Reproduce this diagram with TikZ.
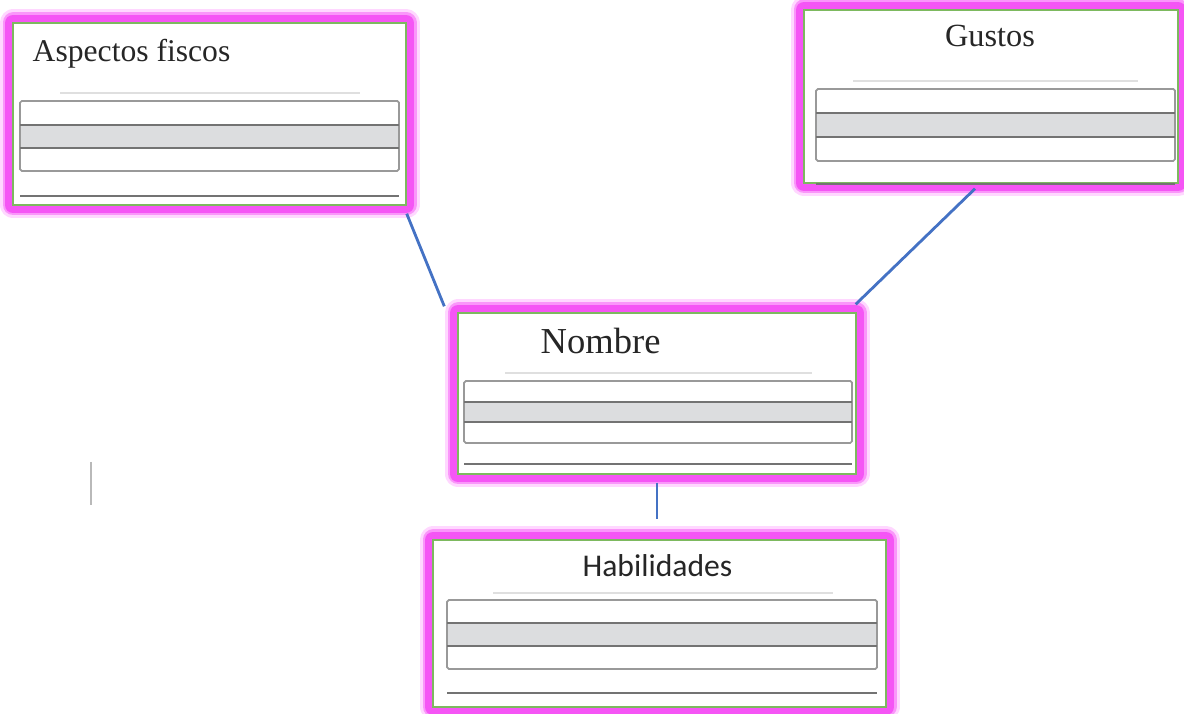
\documentclass[tikz,border=0pt]{standalone}
\usepackage{fontspec}
\setmainfont{Liberation Serif}
\newfontfamily\carlito{Carlito}
\usetikzlibrary{positioning,calc}
\definecolor{glowpink}{RGB}{245,85,245}
\definecolor{halopink}{RGB}{250,150,250}
\definecolor{fadepink}{RGB}{255,215,255}
\definecolor{boxgreen}{RGB}{125,185,95}
\definecolor{linkblue}{RGB}{68,114,196}
\definecolor{rowgray}{RGB}{220,221,223}

\begin{document}
\begin{tikzpicture}
        \tikzstyle{every node}=[inner sep=0pt,text=black!85]
        \tikzstyle{clase}=[rectangle,fill=white,draw=boxgreen,line width=0.4pt,
            preaction={draw=fadepink,line width=0.27cm,line join=round},
            preaction={draw=halopink,line width=0.21cm,line join=round},
            preaction={draw=glowpink,line width=0.16cm,line join=round}]
        \tikzstyle{link}=[draw=linkblue,line width=0.8pt]
        \tikzstyle{fila}=[draw=gray!80,line width=0.5pt,rounded corners=0.5pt]
        \tikzstyle{sep}=[draw=black!55,line width=0.7pt]
        \tikzstyle{tenue}=[draw=gray!25,line width=0.4pt]

        \useasboundingbox (0,0) rectangle (11.84,-7.14);

        %%% Boxes
        \node[clase,minimum width=3.93cm,minimum height=1.82cm] (asp) at (2.095,-1.14) {};
        \node[clase,minimum width=3.74cm,minimum height=1.73cm] (gus) at (9.91,-0.965) {};
        \node[clase,minimum width=3.98cm,minimum height=1.61cm] (nom) at (6.57,-3.935) {};
        \node[clase,minimum width=4.53cm,minimum height=1.67cm] (hab) at (6.595,-6.235) {};

        %%% Titles
        \node[anchor=base west,font=\fontsize{9}{11}\selectfont] (aspT) at (0.32,-0.62) {Aspectos fiscos};
        \node[anchor=base,font=\fontsize{9.2}{11}\selectfont] (gusT) at (9.90,-0.47) {Gustos};
        \node[anchor=base west,font=\fontsize{10.4}{12}\selectfont] (nomT) at (5.40,-3.54) {Nombre};
        \node[anchor=base,font=\carlito\fontsize{9}{11}\selectfont] (habT) at (6.575,-5.77) {Habilidades};

        %%% Aspectos fiscos
        \draw[tenue] (0.60,-0.93) -- (3.60,-0.93);
        \fill[rowgray] (0.20,-1.25) rectangle (3.99,-1.48);
        \draw[fila] (0.20,-1.01) rectangle (3.99,-1.71);
        \draw[sep] (0.20,-1.25) -- (3.99,-1.25) (0.20,-1.48) -- (3.99,-1.48);
        \draw[sep] (0.20,-1.96) -- (3.99,-1.96);

        %%% Gustos
        \draw[tenue] (8.53,-0.81) -- (11.38,-0.81);
        \fill[rowgray] (8.16,-1.13) rectangle (11.75,-1.37);
        \draw[fila] (8.16,-0.89) rectangle (11.75,-1.61);
        \draw[sep] (8.16,-1.13) -- (11.75,-1.13) (8.16,-1.37) -- (11.75,-1.37);
        \draw[sep] (8.16,-1.84) -- (11.75,-1.84);

        %%% Nombre
        \draw[tenue] (5.05,-3.73) -- (8.12,-3.73);
        \fill[rowgray] (4.64,-4.02) rectangle (8.52,-4.22);
        \draw[fila] (4.64,-3.81) rectangle (8.52,-4.43);
        \draw[sep] (4.64,-4.02) -- (8.52,-4.02) (4.64,-4.22) -- (8.52,-4.22);
        \draw[sep] (4.64,-4.64) -- (8.52,-4.64);

        %%% Habilidades
        \draw[tenue] (4.93,-5.93) -- (8.33,-5.93);
        \fill[rowgray] (4.47,-6.23) rectangle (8.77,-6.46);
        \draw[fila] (4.47,-6.00) rectangle (8.77,-6.69);
        \draw[sep] (4.47,-6.23) -- (8.77,-6.23) (4.47,-6.46) -- (8.77,-6.46);
        \draw[sep] (4.47,-6.93) -- (8.77,-6.93);

        %%% Links
        \draw[link] ([yshift=-0.08cm]asp.south east) -- ([shift={(-0.13,0.06)}]nom.north west);
        \draw[link] ([shift={(-0.16,-0.05)}]gus.south) -- ([shift={(-0.01,0.08)}]nom.north east);
        \draw[link,shorten <=0.08cm,shorten >=0.2cm] (nom.south) -- (nom.south |- hab.north);

        \draw[gray!55,line width=0.6pt] (0.91,-4.62) -- (0.91,-5.05);
\end{tikzpicture}
\end{document}
